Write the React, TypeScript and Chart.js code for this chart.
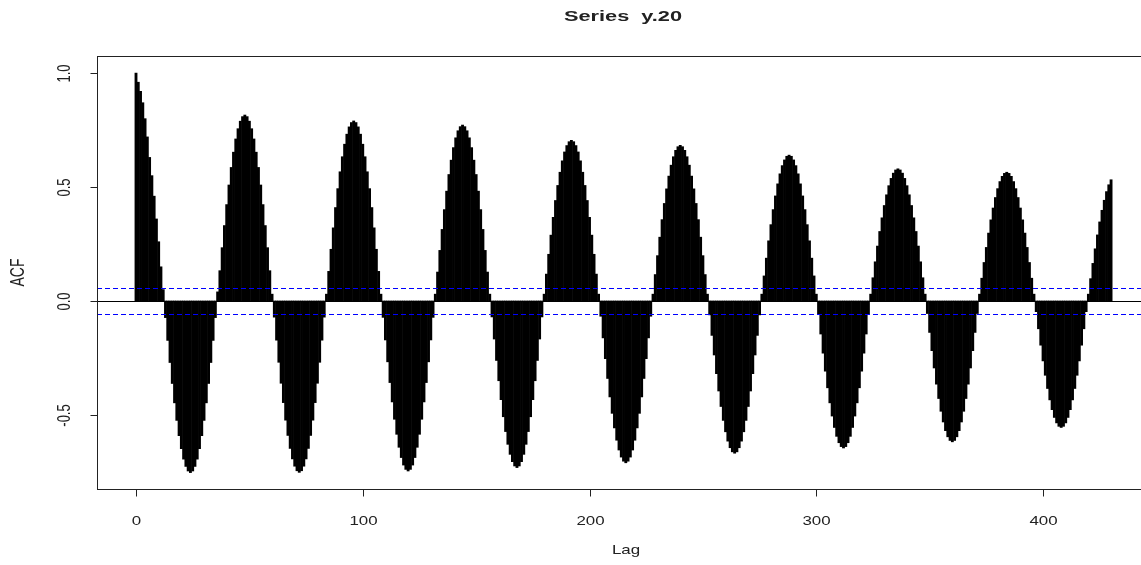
import { useEffect, useRef } from "react";
import { Chart, registerables } from "chart.js";

Chart.register(...registerables);

// Autocorrelation of y.20, lags 0..430 (one value per lag)
const acf: number[] = [
  // lags 0-12
  1.0, 0.96, 0.92, 0.87, 0.8, 0.72, 0.63, 0.55, 0.46, 0.36, 0.26, 0.15, 0.05,
  // lags 13-35
  -0.073, -0.173, -0.27, -0.362, -0.447, -0.524, -0.591, -0.648, -0.694, -0.726, -0.746, -0.753,
  -0.746, -0.726, -0.694, -0.648, -0.591, -0.524, -0.447, -0.362, -0.27, -0.173, -0.073,
  // lag 36
  0.04,
  // lags 37-59
  0.133, 0.234, 0.331, 0.423, 0.509, 0.586, 0.653, 0.711, 0.756, 0.789, 0.809, 0.816,
  0.809, 0.789, 0.756, 0.711, 0.653, 0.586, 0.509, 0.423, 0.331, 0.234, 0.133,
  // lag 60
  0.03,
  // lags 61-83
  -0.071, -0.172, -0.269, -0.361, -0.446, -0.523, -0.59, -0.647, -0.693, -0.725, -0.745, -0.752,
  -0.745, -0.725, -0.693, -0.647, -0.59, -0.523, -0.446, -0.361, -0.269, -0.172, -0.071,
  // lag 84
  0.03,
  // lags 85-107
  0.13, 0.227, 0.321, 0.41, 0.493, 0.567, 0.633, 0.688, 0.732, 0.764, 0.783, 0.79,
  0.783, 0.764, 0.732, 0.688, 0.633, 0.567, 0.493, 0.41, 0.321, 0.227, 0.13,
  // lag 108
  0.03,
  // lags 109-131
  -0.072, -0.171, -0.267, -0.358, -0.443, -0.519, -0.585, -0.642, -0.687, -0.72, -0.739, -0.746,
  -0.739, -0.72, -0.687, -0.642, -0.585, -0.519, -0.443, -0.358, -0.267, -0.171, -0.072,
  // lag 132
  0.03,
  // lags 133-155
  0.127, 0.222, 0.314, 0.401, 0.482, 0.555, 0.618, 0.673, 0.716, 0.747, 0.765, 0.772,
  0.765, 0.747, 0.716, 0.673, 0.618, 0.555, 0.482, 0.401, 0.314, 0.222, 0.127,
  // lag 156
  0.03,
  // lags 157-179
  -0.07, -0.167, -0.261, -0.35, -0.433, -0.508, -0.573, -0.629, -0.673, -0.705, -0.724, -0.731,
  -0.724, -0.705, -0.673, -0.629, -0.573, -0.508, -0.433, -0.35, -0.261, -0.167, -0.07,
  // lag 180
  0.03,
  // lags 181-203
  0.118, 0.205, 0.289, 0.367, 0.441, 0.507, 0.565, 0.615, 0.654, 0.682, 0.699, 0.705,
  0.699, 0.682, 0.654, 0.615, 0.565, 0.507, 0.441, 0.367, 0.289, 0.205, 0.118,
  // lag 204
  0.03,
  // lags 205-227
  -0.067, -0.162, -0.253, -0.34, -0.421, -0.493, -0.557, -0.611, -0.654, -0.685, -0.703, -0.71,
  -0.703, -0.685, -0.654, -0.611, -0.557, -0.493, -0.421, -0.34, -0.253, -0.162, -0.067,
  // lag 228
  0.03,
  // lags 229-251
  0.116, 0.199, 0.28, 0.357, 0.428, 0.492, 0.548, 0.596, 0.633, 0.661, 0.677, 0.683,
  0.677, 0.661, 0.633, 0.596, 0.548, 0.492, 0.428, 0.357, 0.28, 0.199, 0.116,
  // lag 252
  0.03,
  // lags 253-275
  -0.061, -0.151, -0.237, -0.319, -0.395, -0.463, -0.524, -0.574, -0.615, -0.644, -0.662, -0.668,
  -0.662, -0.644, -0.615, -0.574, -0.524, -0.463, -0.395, -0.319, -0.237, -0.151, -0.061,
  // lag 276
  0.03,
  // lags 277-299
  0.11, 0.188, 0.264, 0.335, 0.401, 0.461, 0.514, 0.558, 0.594, 0.619, 0.635, 0.64,
  0.635, 0.619, 0.594, 0.558, 0.514, 0.461, 0.401, 0.335, 0.264, 0.188, 0.11,
  // lag 300
  0.03,
  // lags 301-323
  -0.058, -0.145, -0.229, -0.308, -0.381, -0.447, -0.505, -0.555, -0.594, -0.622, -0.639, -0.645,
  -0.639, -0.622, -0.594, -0.555, -0.505, -0.447, -0.381, -0.308, -0.229, -0.145, -0.058,
  // lag 324
  0.03,
  // lags 325-347
  0.102, 0.172, 0.241, 0.305, 0.365, 0.419, 0.466, 0.506, 0.538, 0.561, 0.575, 0.58,
  0.575, 0.561, 0.538, 0.506, 0.466, 0.419, 0.365, 0.305, 0.241, 0.172, 0.102,
  // lag 348
  0.03,
  // lags 349-371
  -0.055, -0.138, -0.218, -0.294, -0.365, -0.428, -0.484, -0.531, -0.569, -0.596, -0.612, -0.618,
  -0.612, -0.596, -0.569, -0.531, -0.484, -0.428, -0.365, -0.294, -0.218, -0.138, -0.055,
  // lag 372
  0.03,
  // lags 373-395
  0.1, 0.169, 0.235, 0.298, 0.356, 0.408, 0.454, 0.493, 0.524, 0.547, 0.56, 0.565,
  0.56, 0.547, 0.524, 0.493, 0.454, 0.408, 0.356, 0.298, 0.235, 0.169, 0.1,
  // lag 396
  0.03,
  // lags 397-419
  -0.047, -0.122, -0.194, -0.263, -0.326, -0.384, -0.434, -0.477, -0.511, -0.535, -0.55, -0.555,
  -0.55, -0.535, -0.511, -0.477, -0.434, -0.384, -0.326, -0.263, -0.194, -0.122, -0.047,
  // lags 420-430
  0.03, 0.098, 0.165, 0.229, 0.29, 0.347, 0.398, 0.442, 0.48, 0.51, 0.532,
];

// approximate 95% bounds for white noise
const ciBound = 0.055;

const xTickValues = [0, 100, 200, 300, 400];
const yTickValues = [-0.5, 0, 0.5, 1];
const yTickLabels = ["-0.5", "0.0", "0.5", "1.0"];

const titleText = "Series  y.20";
const xTitle = "Lag";
const yTitle = "ACF";

// plot region limits (R-style 4% extension)
const X_MIN = -17.2;
const X_MAX = 443.2;
const Y_MIN = -0.825;
const Y_MAX = 1.075;

const W = 1141;
const H = 565;
const FAMILY = '"Liberation Sans", Arial, sans-serif';
const TEXT = "#222";

function drawText(
  ctx: CanvasRenderingContext2D,
  text: string,
  x: number,
  y: number,
  font: string,
  hScale: number,
  rotate = false
) {
  ctx.save();
  ctx.translate(x, y);
  ctx.scale(hScale, 1);
  if (rotate) ctx.rotate(-Math.PI / 2);
  ctx.font = font;
  ctx.fillStyle = TEXT;
  ctx.textAlign = "center";
  ctx.textBaseline = "middle";
  ctx.fillText(text, 0, 0);
  ctx.restore();
}

// horizontal reference lines: zero line and the dashed white-noise bounds
const refLinesPlugin = {
  id: "refLines",
  afterDatasetsDraw(chart: any) {
    const { ctx, chartArea, scales } = chart;
    const { left, right } = chartArea;
    const ys = scales.y;
    const hline = (v: number, color: string, dash: number[]) => {
      const py = Math.round(ys.getPixelForValue(v)) + 0.5;
      ctx.save();
      ctx.strokeStyle = color;
      ctx.lineWidth = 1;
      ctx.setLineDash(dash);
      ctx.beginPath();
      ctx.moveTo(left, py);
      ctx.lineTo(right, py);
      ctx.stroke();
      ctx.restore();
    };
    hline(0, "#000000", []);
    hline(ciBound, "#0000ff", [5, 3]);
    hline(-ciBound, "#0000ff", [5, 3]);
  },
};

const rAxesPlugin = {
  id: "rAxes",
  afterDraw(chart: any) {
    const { ctx, chartArea, scales } = chart;
    const { left, top, right, bottom } = chartArea;
    const xs = scales.x;
    const ys = scales.y;
    ctx.save();
    ctx.strokeStyle = "#222";
    ctx.lineWidth = 1;

    // plot frame (right edge runs past the canvas)
    ctx.strokeRect(Math.round(left) + 0.5, Math.round(top) + 0.5, right - left + 20, Math.round(bottom - top));

    // x axis ticks and labels
    xTickValues.forEach((v) => {
      const px = Math.round(xs.getPixelForValue(v)) + 0.5;
      ctx.beginPath();
      ctx.moveTo(px, Math.round(bottom) + 0.5);
      ctx.lineTo(px, Math.round(bottom) + 7.5);
      ctx.stroke();
      drawText(ctx, String(v), px, bottom + 32, `13px ${FAMILY}`, 1.3);
    });

    // y axis ticks and rotated labels
    yTickValues.forEach((v, i) => {
      const py = Math.round(ys.getPixelForValue(v)) + 0.5;
      ctx.beginPath();
      ctx.moveTo(Math.round(left) + 0.5, py);
      ctx.lineTo(Math.round(left) - 6.5, py);
      ctx.stroke();
      drawText(ctx, yTickLabels[i], 65, py, `13px ${FAMILY}`, 1.4, true);
    });
    ctx.restore();

    // titles
    drawText(ctx, titleText, 623, 17, `bold 15px ${FAMILY}`, 1.45);
    drawText(ctx, xTitle, 626, 550, `13px ${FAMILY}`, 1.3);
    drawText(ctx, yTitle, 19, (top + bottom) / 2, `14px ${FAMILY}`, 1.4, true);
  },
};

export default function App() {
  const canvasRef = useRef<HTMLCanvasElement | null>(null);

  useEffect(() => {
    const canvas = canvasRef.current;
    if (!canvas) return;

    const bars = acf.map((v, i) => ({ x: i, y: v }));

    const chart = new Chart(canvas, {
      type: "bar",
      data: {
        datasets: [
          {
            data: bars,
            backgroundColor: "#000000",
            borderWidth: 0,
            barThickness: 2.2,
          },
        ],
      },
      options: {
        responsive: false,
        animation: false,
        devicePixelRatio: 1,
        layout: { padding: { left: 97, top: 56, right: 0, bottom: 76 } },
        plugins: {
          legend: { display: false },
          tooltip: { enabled: false },
          title: { display: false },
        },
        scales: {
          x: { type: "linear", min: X_MIN, max: X_MAX, display: false, offset: false },
          y: { type: "linear", min: Y_MIN, max: Y_MAX, display: false },
        },
      },
      plugins: [refLinesPlugin, rAxesPlugin],
    });

    return () => chart.destroy();
  }, []);

  return (
    <div style={{ position: "absolute", left: 0, top: 0, width: W, height: H, background: "#fff" }}>
      <canvas ref={canvasRef} width={W} height={H} style={{ display: "block" }} />
    </div>
  );
}
